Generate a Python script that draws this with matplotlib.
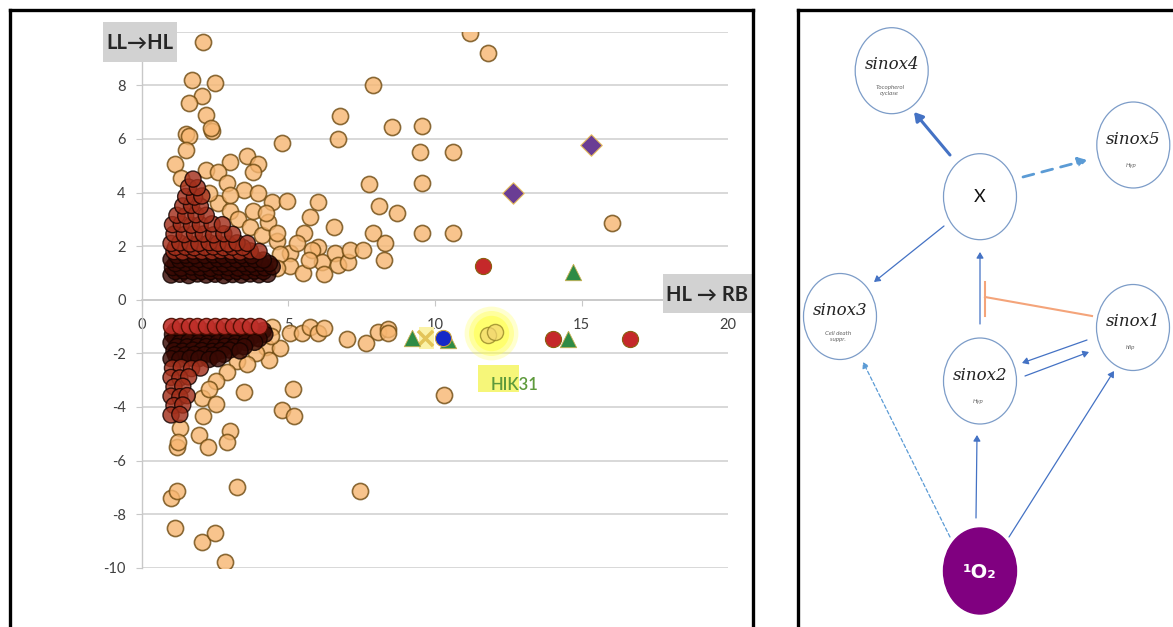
import matplotlib
matplotlib.use('Agg')
import matplotlib.pyplot as plt
from matplotlib.patches import Ellipse, Rectangle

plt.rcParams['font.family'] = ['Lato', 'DejaVu Sans']

# ---------------- data ----------------
# sparse orange points, upper half (HL->RB, LL->HL)
up_x = [2.1, 1.7, 2.5, 2.05, 1.6, 2.2, 1.5, 1.6, 2.4, 2.35, 1.5, 1.15, 1.35, 3.0, 3.6,
        3.95, 3.8, 2.2, 2.6, 2.9, 3.5, 3.95, 4.45, 4.95, 4.8, 6.0, 5.75, 6.55, 5.55, 6.0,
        6.75, 6.7, 7.9, 8.55, 7.75, 8.1, 8.7, 7.9, 8.3, 8.25, 5.05, 5.05, 5.5, 5.8, 6.15,
        6.2, 6.6, 6.7, 7.05, 7.1, 7.55, 9.55, 9.5, 10.6, 9.55, 9.55, 10.6, 11.2, 11.8, 16.05,
        2.6, 3.0, 3.3, 3.7, 4.1, 2.3, 3.0, 3.8, 4.3, 4.6, 4.7, 4.6, 4.25, 4.6, 5.3, 5.7]
up_y = [9.6, 8.2, 8.1, 7.6, 7.35, 6.9, 6.2, 6.1, 6.3, 6.4, 5.6, 5.05, 4.55, 5.15, 5.35,
        5.05, 4.75, 4.85, 4.75, 4.35, 4.1, 4.0, 3.65, 3.7, 5.85, 3.65, 3.1, 2.7, 2.5, 1.95,
        6.85, 6.0, 8.0, 6.45, 4.3, 3.5, 3.25, 2.5, 2.1, 1.5, 1.75, 1.25, 1.0, 1.85, 1.4,
        0.95, 1.75, 1.3, 1.4, 1.85, 1.85, 6.5, 5.5, 5.5, 4.35, 2.5, 2.5, 9.95, 9.2, 2.85,
        3.6, 3.3, 3.0, 2.7, 2.4, 4.0, 3.9, 3.3, 2.9, 2.2, 1.7, 1.2, 3.25, 2.5, 2.1, 1.5]

# sparse orange points, lower half
low_x = [4.45, 5.05, 5.45, 5.75, 6.0, 6.2, 7.0, 7.65, 8.05, 8.4, 8.4, 4.25, 4.7, 4.35,
         3.5, 5.15, 4.8, 5.2, 2.05, 2.55, 2.1, 1.95, 2.25, 3.0, 2.9, 1.3, 1.2, 1.0, 1.2,
         3.25, 7.45, 1.15, 2.05, 2.5, 2.85, 3.25, 2.9, 2.55, 2.3, 10.3, 3.9, 3.6, 4.4, 1.25]
low_y = [-1.0, -1.25, -1.25, -1.0, -1.25, -1.05, -1.45, -1.6, -1.2, -1.1, -1.25, -1.75,
         -1.8, -2.25, -3.45, -3.35, -4.1, -4.35, -3.65, -3.9, -4.35, -5.05, -5.5, -4.9,
         -5.3, -4.8, -5.5, -7.4, -7.15, -7.0, -7.15, -8.5, -9.05, -8.7, -9.8, -2.3, -2.7,
         -3.05, -3.35, -3.55, -2.0, -2.4, -1.35, -5.3]

# densely overlapping points, upper cluster
dense_up_x = [1.0, 1.3, 1.6, 1.9, 2.2, 2.5, 2.8, 3.1, 3.4, 3.7, 4.0, 4.3,
              1.15, 1.45, 1.75, 2.05, 2.35, 2.65, 2.95, 3.25, 3.55, 3.85, 4.15,
              1.05, 1.35, 1.7, 2.0, 2.35, 2.65, 2.95, 3.3, 3.6, 3.9, 4.2, 4.45,
              1.15, 1.5, 1.85, 2.15, 2.5, 2.8, 3.1, 3.45, 3.75, 4.05, 4.35,
              1.0, 1.3, 1.6, 1.95, 2.3, 2.6, 2.9, 3.25, 3.55, 3.85, 4.15,
              1.2, 1.5, 1.8, 2.15, 2.45, 2.75, 3.1, 3.4, 3.75,
              1.1, 1.4, 1.75, 2.05, 2.4, 2.7, 3.05, 3.35, 3.7, 4.0,
              1.15, 1.5, 1.8, 2.15, 2.45, 2.8, 3.1, 3.45,
              1.0, 1.3, 1.65, 1.95, 2.3, 2.6, 2.95, 3.25, 3.6,
              1.1, 1.45, 1.8, 2.1, 2.45, 2.8, 3.1,
              1.05, 1.35, 1.7, 2.0, 2.4, 2.75,
              1.2, 1.5, 1.85, 2.2,
              1.4, 1.7, 2.0,
              1.5, 1.8, 2.05,
              1.6, 1.9,
              1.75]
dense_up_y = [0.92, 0.95, 0.9, 0.96, 0.92, 0.95, 0.9, 0.94, 0.92, 0.96, 0.93, 0.95,
              1.05, 1.07, 1.04, 1.06, 1.05, 1.07, 1.04, 1.06, 1.05, 1.07, 1.05,
              1.2, 1.18, 1.22, 1.2, 1.17, 1.22, 1.2, 1.18, 1.22, 1.2, 1.19, 1.23,
              1.35, 1.36, 1.34, 1.35, 1.37, 1.34, 1.36, 1.35, 1.33, 1.36, 1.35,
              1.5, 1.48, 1.52, 1.5, 1.47, 1.52, 1.5, 1.49, 1.53, 1.5, 1.48,
              1.65, 1.66, 1.64, 1.65, 1.67, 1.64, 1.66, 1.65, 1.64,
              1.8, 1.78, 1.82, 1.8, 1.79, 1.83, 1.8, 1.78, 1.82, 1.8,
              1.95, 1.96, 1.94, 1.95, 1.97, 1.94, 1.96, 1.95,
              2.1, 2.12, 2.08, 2.1, 2.13, 2.1, 2.08, 2.12, 2.1,
              2.45, 2.43, 2.47, 2.45, 2.42, 2.46, 2.44,
              2.8, 2.82, 2.78, 2.8, 2.83, 2.8,
              3.15, 3.13, 3.17, 3.15,
              3.5, 3.52, 3.48,
              3.85, 3.83, 3.87,
              4.2, 4.18,
              4.5]

# densely overlapping points, lower cluster
dense_low_x = [1.15, 1.45, 1.75, 2.05, 2.35, 2.65, 2.95, 3.25, 3.55, 3.85, 4.15,
               1.05, 1.35, 1.7, 2.0, 2.3, 2.65, 2.95, 3.3, 3.6, 3.9, 4.2,
               1.15, 1.5, 1.85, 2.15, 2.45, 2.75, 3.05, 3.4, 3.7, 4.0,
               1.0, 1.3, 1.6, 1.95, 2.25, 2.6, 2.9, 3.2, 3.55, 3.85,
               1.2, 1.55, 1.9, 2.2, 2.5, 2.85, 3.15, 3.5,
               1.1, 1.4, 1.75, 2.05, 2.4, 2.7, 3.0, 3.35,
               1.15, 1.5, 1.8, 2.15, 2.45, 2.8,
               1.0, 1.3, 1.65, 1.95, 2.3, 2.6,
               1.05, 1.35, 1.7, 2.0,
               1.0, 1.3, 1.6,
               1.1, 1.4,
               1.0, 1.3, 1.55,
               1.1, 1.4,
               1.0, 1.3]
dense_low_y = [-1.15, -1.16, -1.14, -1.15, -1.17, -1.14, -1.16, -1.15, -1.13, -1.16, -1.15,
               -1.3, -1.28, -1.32, -1.3, -1.27, -1.31, -1.3, -1.28, -1.32, -1.3, -1.29,
               -1.45, -1.46, -1.44, -1.45, -1.47, -1.44, -1.46, -1.45, -1.43, -1.46,
               -1.6, -1.62, -1.58, -1.6, -1.63, -1.6, -1.58, -1.62, -1.6, -1.59,
               -1.75, -1.76, -1.74, -1.75, -1.77, -1.74, -1.76, -1.75,
               -1.9, -1.92, -1.88, -1.9, -1.93, -1.9, -1.88, -1.91,
               -2.05, -2.06, -2.04, -2.05, -2.07, -2.04,
               -2.2, -2.22, -2.18, -2.2, -2.23, -2.2,
               -2.55, -2.53, -2.57, -2.55,
               -2.9, -2.92, -2.88,
               -3.25, -3.23,
               -3.6, -3.62, -3.58,
               -3.95, -3.93,
               -4.3, -4.28]

# top row of red points in the lower cluster
redrow_x = [1.0, 1.3, 1.6, 1.9, 2.2, 2.5, 2.8, 3.1, 3.4, 3.7, 4.0]
redrow_y = [-0.98, -0.98, -0.98, -0.98, -0.98, -0.98, -0.98, -0.98, -0.98, -0.98, -0.98]

# highlighted gene (HIK31)
hik_x = [11.8, 12.05]
hik_y = [-1.3, -1.2]
hik_label = 'HIK31'

# special marker series
purple_x = [12.66, 15.32]
purple_y = [3.98, 5.77]
red_x = [11.64, 14.02, 16.65]
red_y = [1.26, -1.47, -1.47]
green_x = [14.7, 9.22, 10.44, 14.53]
green_y = [1.04, -1.43, -1.5, -1.47]
blue_x = [10.27]
blue_y = [-1.43]
cross_x = [9.66]
cross_y = [-1.43]

x_ticks = [0, 5, 10, 15, 20]
y_ticks = [-10, -8, -6, -4, -2, 0, 2, 4, 6, 8, 10]
y_ticklabels = ['-10', '-8', '-6', '-4', '-2', '0', '2', '4', '6', '8', '']
y_axis_title = 'LL\u2192HL'
x_axis_title = 'HL \u2192 RB'

# network diagram (right panel)
node_names = ['sinox4', 'sinox5', 'X', 'sinox3', 'sinox1', 'sinox2', 'O2']
node_titles = ['sinox4', 'sinox5', 'X', 'sinox3', 'sinox1', 'sinox2', '\u00b9O\u2082']
node_subtitles = ['Tocopherol\ncyclase', 'Hyp', '', 'Cell death\nsuppr.', 'hlip', 'Hyp', '']

# ---------------- figure ----------------
W, H = 1173, 627
fig = plt.figure(figsize=(W / 100, H / 100), dpi=100)
fig.patch.set_facecolor('white')

ax = fig.add_axes([141.7 / W, (H - 567.7) / H, 586.6 / W, 536.0 / H], zorder=1)
ax.set_xlim(0, 20)
ax.set_ylim(-10, 10)
ax.set_facecolor('white')

for s in ['top', 'right']:
    ax.spines[s].set_visible(False)
ax.spines['left'].set_color('#C8C8C8')
ax.spines['left'].set_linewidth(1.0)
ax.spines['bottom'].set_position(('data', 0))
ax.spines['bottom'].set_color('#C8C8C8')
ax.spines['bottom'].set_linewidth(1.2)

ax.set_yticks(y_ticks)
ax.set_yticklabels(y_ticklabels)
ax.set_xticks(x_ticks)
ax.set_xticklabels([str(t) for t in x_ticks])
ax.tick_params(axis='y', length=4.5, width=0.8, color='#C8C8C8', pad=7,
               labelsize=10.5, labelcolor='#404040')
ax.tick_params(axis='x', length=4, width=0.8, color='#C8C8C8', pad=9,
               labelsize=10.5, labelcolor='#404040')
ax.yaxis.grid(True, color='#D5D5D5', linewidth=1.3)
ax.set_axisbelow(True)

ORANGE = '#F7B671'
EDGE = '#6E4A10'
S = 135

# sparse orange points
ax.scatter(up_x, up_y, s=S, facecolor=ORANGE, edgecolor=EDGE, linewidth=1.2,
           alpha=0.8, zorder=3)
ax.scatter(low_x, low_y, s=S, facecolor=ORANGE, edgecolor=EDGE, linewidth=1.2,
           alpha=0.8, zorder=3)

# dense clusters: the most crowded band renders darkest
DARK = '#3A0A04'
REDBROWN = '#A3301C'
up_cols = [DARK if y < 1.7 else REDBROWN for y in dense_up_y]
low_cols = [DARK if y > -2.3 else REDBROWN for y in dense_low_y]
ax.scatter(dense_up_x, dense_up_y, s=S, c=up_cols, edgecolor='#120200',
           linewidth=1.0, alpha=0.82, zorder=4)
ax.scatter(dense_low_x, dense_low_y, s=S, c=low_cols, edgecolor='#120200',
           linewidth=1.0, alpha=0.82, zorder=4)
ax.scatter(redrow_x, redrow_y, s=S, facecolor='#C0302A', edgecolor='#4A0C00',
           linewidth=1.0, alpha=0.9, zorder=5)

# HIK31 highlight glow
for sz, a in [(1500, 0.25), (1050, 0.35), (650, 0.5)]:
    ax.scatter([sum(hik_x) / 2], [sum(hik_y) / 2], s=sz, color='#FFFF40',
               alpha=a, linewidth=0, zorder=4.5)
ax.scatter(hik_x, hik_y, s=S, facecolor='#F3D772', edgecolor='#8A7A20',
           linewidth=1.0, alpha=0.7, zorder=6)
ax.add_patch(Rectangle((11.45, -3.43), 1.4, 1.0, facecolor='#F5F56A', edgecolor='none',
                       alpha=0.9, zorder=2))
ax.text(11.9, -3.2, hik_label, color='#5E9A3C', fontsize=12, fontweight='semibold',
        ha='left', va='center', zorder=7)

# special markers
ax.add_patch(Rectangle((9.45, -1.85), 0.5, 0.85, facecolor='#FBF2A8', edgecolor='none',
                       zorder=2))
ax.scatter(cross_x, cross_y, s=120, marker='x', color='#E3C458', linewidth=2.5, zorder=6)
ax.scatter(purple_x, purple_y, s=120, marker='D', facecolor='#6A3D94',
           edgecolor='#E8C060', linewidth=0.8, zorder=7)
ax.scatter(red_x, red_y, s=S, facecolor='#C5282A', edgecolor='#8A6010',
           linewidth=0.8, zorder=7)
ax.scatter(green_x, green_y, s=140, marker='^', facecolor='#2E8B45',
           edgecolor='#C8B050', linewidth=0.6, zorder=7)
ax.scatter(blue_x, blue_y, s=S, facecolor='#1428C8', edgecolor='#C8A040',
           linewidth=0.8, zorder=8)

# ---------------- overlay: frames, titles, diagram ----------------
ov = fig.add_axes([0, 0, 1, 1], zorder=5)
ov.set_xlim(0, W)
ov.set_ylim(H, 0)
ov.axis('off')
ov.patch.set_alpha(0)

lw_frame = 2.4
ov.plot([10, 10], [10, H + 5], color='black', lw=lw_frame, solid_capstyle='projecting')
ov.plot([10, 753], [10, 10], color='black', lw=lw_frame, solid_capstyle='projecting')
ov.plot([753, 753], [10, H + 5], color='black', lw=lw_frame, solid_capstyle='projecting')
ov.plot([798, 798], [10, H + 5], color='black', lw=lw_frame, solid_capstyle='projecting')
ov.plot([798, W + 5], [10, 10], color='black', lw=lw_frame, solid_capstyle='projecting')

# axis title boxes
ov.add_patch(Rectangle((103, 22), 74, 40, facecolor='#D2D2D2', edgecolor='none'))
ov.text(140, 43, y_axis_title, ha='center', va='center', fontsize=14.5,
        fontweight='bold', color='#262626', family=['Lato', 'DejaVu Sans'])
ov.add_patch(Rectangle((663, 274), 89, 39, facecolor='#D2D2D2', edgecolor='none'))
ov.text(707, 295, x_axis_title, ha='center', va='center', fontsize=14.5,
        fontweight='bold', color='#262626', family=['Lato', 'DejaVu Sans'])

# diagram layout (pixel positions in the panel)
node_pos = {'sinox4': (891.7, 70.7), 'sinox5': (1133.3, 145.0), 'X': (980.0, 196.7),
            'sinox3': (840.0, 316.5), 'sinox1': (1133.0, 327.5), 'sinox2': (980.0, 381.0),
            'O2': (980.0, 571.0)}
NW, NH = 73, 86
for name, title, sub in zip(node_names, node_titles, node_subtitles):
    cx, cy = node_pos[name]
    if name == 'O2':
        ov.add_patch(Ellipse((cx, cy), NW, NH, facecolor='#800080', edgecolor='#800080'))
        ov.text(cx, cy + 1, title, ha='center', va='center', color='white', fontsize=14,
                fontweight='bold', family=['DejaVu Sans'])
    elif name == 'X':
        ov.add_patch(Ellipse((cx, cy), NW, NH, facecolor='white', edgecolor='#7C9CC8', lw=0.9))
        ov.text(cx, cy, title, ha='center', va='center', color='#111111', fontsize=13)
    else:
        ov.add_patch(Ellipse((cx, cy), NW, NH, facecolor='white', edgecolor='#7C9CC8', lw=0.9))
        ov.text(cx, cy - 6, title, ha='center', va='center', color='#222222', fontsize=12,
                fontstyle='italic', family=['DejaVu Serif'])
        ov.text(cx - 2, cy + 20, sub, ha='center', va='center', color='#666666',
                fontsize=4.5, fontstyle='italic', linespacing=1.2)

BLUE = '#4472C4'
LBLUE = '#5B9BD5'
edges = [
    ((950, 155), (914, 112), BLUE, 2.2, '-'),
    ((1023, 177), (1087, 160), LBLUE, 2.0, (0, (4, 3))),
    ((944, 226), (874, 282), BLUE, 0.9, '-'),
    ((980, 324), (980, 252), BLUE, 0.9, '-'),
    ((1087, 340), (1022, 363), BLUE, 0.9, '-'),
    ((1025, 376), (1089, 352), BLUE, 0.9, '-'),
    ((950, 537), (863, 362), LBLUE, 0.9, (0, (3, 2))),
    ((976, 518), (977, 435), BLUE, 0.9, '-'),
    ((1009, 537), (1114, 371), BLUE, 0.9, '-'),
]
for (x0, y0), (x1, y1), col, lw, ls in edges:
    hs = 0.5 if lw > 1.5 else 0.35
    ov.annotate('', xy=(x1, y1), xytext=(x0, y0),
                arrowprops=dict(arrowstyle='-|>,head_length=%.2f,head_width=%.2f' % (hs, hs * 0.6),
                                color=col, lw=lw, linestyle=ls, shrinkA=0, shrinkB=0))
# inhibition edge (sinox1 -| X activation)
ORNG = '#F4A47A'
ov.plot([1092, 985], [316, 297], color=ORNG, lw=1.5)
ov.plot([985, 985], [282, 316], color=ORNG, lw=1.5)

fig.savefig('out.png', dpi=100)
